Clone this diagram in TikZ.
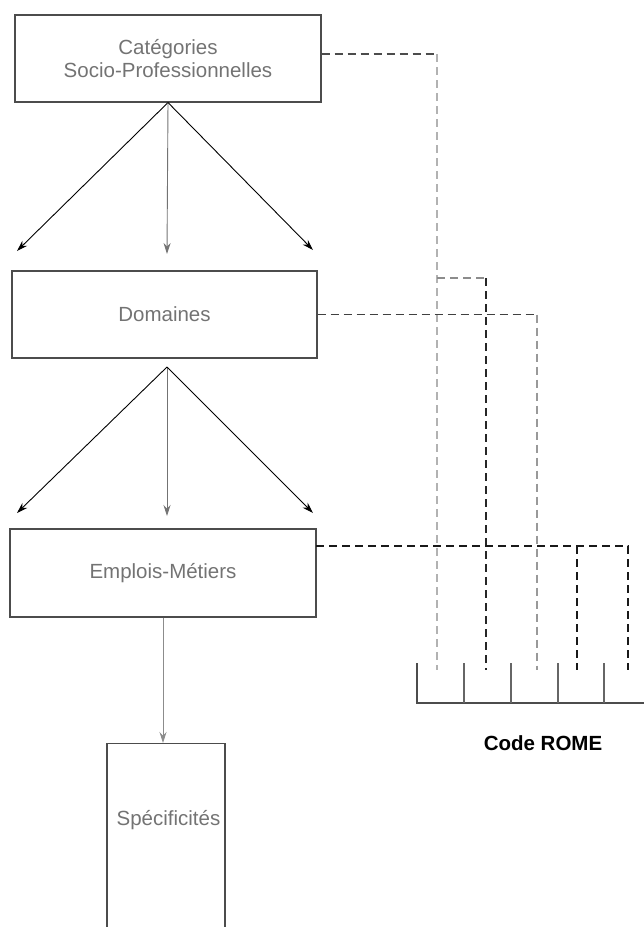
\documentclass[tikz,border=0pt]{standalone}
\usepackage{fontspec}
\setmainfont{Liberation Sans}
\usetikzlibrary{arrows.meta}

\begin{document}
\begin{tikzpicture}[x=1pt,y=-1pt,
  boite/.style={draw=black!70,line width=1.1pt,text=black!55,align=center,inner sep=0pt,
    font=\fontsize{20.5}{23}\selectfont},
  fleche/.style={-{Stealth[length=11pt,width=7pt]},line width=0.9pt},
  tiret/.style={dash pattern=on 8pt off 5pt,line width=1.4pt}]
% Hiérarchie des niveaux et cases du code ROME
\useasboundingbox (0,0) rectangle (644,927);
\node[boite,minimum width=306pt,minimum height=87pt] (csp) at (168,58.5) {Catégories\\Socio-Professionnelles};
\node[boite,minimum width=305pt,minimum height=87pt] (dom) at (164.5,314.5) {Domaines};
\node[boite,minimum width=306pt,minimum height=88pt] (emp) at (163,573) {Emplois-Métiers};
\node[boite,minimum width=118pt,minimum height=200pt,anchor=north] (spec) at (166,743) {};
\node[text=black!55,font=\fontsize{20.5}{23}\selectfont] (spectxt) at (168.5,820) {Spécificités};

% flèches entre niveaux
\coordinate (a1) at (17,251);
\coordinate (a2) at (167,254);
\coordinate (a3) at (313,250);
\draw[fleche] (csp.south) -- (a1);
\draw[fleche,black!55] (csp.south) -- (a2);
\draw[fleche] (csp.south) -- (a3);
\coordinate (h2) at (167,367);
\coordinate (b1) at (17,513);
\coordinate (b2) at (167,516);
\coordinate (b3) at (313,513);
\draw[fleche] (h2) -- (b1);
\draw[fleche,black!55] (h2) -- (b2);
\draw[fleche] (h2) -- (b3);
\draw[fleche,black!45] (emp.south) -- (emp.south |- spec.north);

% liaisons vers les cases du code
\coordinate (r1) at (437,670);
\coordinate (r2) at (486,670);
\coordinate (r3) at (537,670);
\coordinate (r4) at (577,670);
\coordinate (r5) at (628,670);
\coordinate (k1) at (437,54);
\coordinate (k2) at (437,278);
\coordinate (k3) at (486,278);
\coordinate (k4) at (537,314.5);
\coordinate (e1) at (316,546);
\coordinate (e2) at (577,546);
\draw[tiret,black!70] (csp.east |- k1) -- (k1);
\draw[tiret,black!30] (k1) -- (r1);
\draw[tiret,black!45] (k2) -- (k3);
\draw[tiret,black!85] (k3) -- (r2);
\draw[tiret,black!75] (dom.east) -- (k4);
\draw[tiret,black!40] (k4) -- (r3);
\draw[tiret,black!90] (e1) -| (r5);
\draw[tiret,black!90] (e2) -- (r4);

% cases du code ROME
\draw[black!70,line width=1.1pt] (417,663) -- (417,703) -- (644,703);
\foreach \x in {464,511,558,604}
  \draw[black!60,line width=1.1pt] (\x,663) -- (\x,703);
\node[font=\fontsize{20.5}{23}\selectfont\bfseries] (rome) at (543,743) {Code ROME};
\end{tikzpicture}
\end{document}
